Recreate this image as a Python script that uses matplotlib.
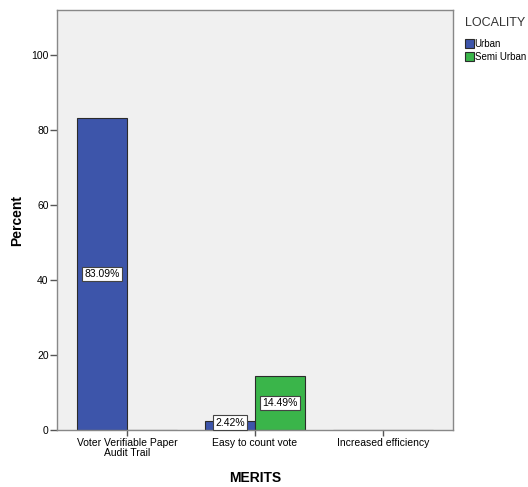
import numpy as np
import matplotlib.pyplot as plt
from matplotlib.patches import Patch

plt.rcParams['font.family'] = ['Liberation Sans', 'DejaVu Sans']

# data
categories = ['Voter Verifiable Paper\nAudit Trail', 'Easy to count vote', 'Increased efficiency']
urban = [83.09, 2.42, 0]
semi_urban = [0, 14.49, 0]
series_names = ['Urban', 'Semi Urban']
colors = ['#3D55AA', '#3AB54A']

fig = plt.figure(figsize=(5.28, 4.87), dpi=100)
ax = fig.add_axes([57/528, 1 - 430/487, 396/528, 420/487])
ax.set_facecolor('#F0F0F0')

x = np.arange(len(categories))
w = 0.39
for vals, off, c in [(urban, -w/2, colors[0]), (semi_urban, w/2, colors[1])]:
    bars = ax.bar(x + off, vals, width=w, color=c, edgecolor='#2b2b2b', linewidth=0.8)
    for b, v in zip(bars, vals):
        if v > 0:
            ax.text(b.get_x() + b.get_width()/2, max(v/2, 2.0), f'{v:.2f}%',
                    ha='center', va='center', fontsize=7.5,
                    bbox=dict(boxstyle='square,pad=0.2', fc='white', ec='#444444', lw=0.8))

ax.set_xlim(-0.547, 2.547)
ax.set_ylim(0, 112)
ax.set_yticks([0, 20, 40, 60, 80, 100])
ax.set_xticks(x)
ax.set_xticklabels(categories, fontsize=7.5, linespacing=0.9)
ax.tick_params(axis='y', labelsize=7.5, length=5, width=1, color='#555555', pad=1)
ax.tick_params(axis='x', length=4, width=1, color='#555555', pad=2)
for s in ax.spines.values():
    s.set_color('#888888')
    s.set_linewidth(1)

ax.set_ylabel('Percent', fontsize=10, fontweight='bold', labelpad=5)
ax.set_xlabel('MERITS', fontsize=10, fontweight='bold', labelpad=10)

# legend title drawn separately to get SPSS-like spacing
fig.text(465/528, 1 - 23/487, 'LOCALITY', fontsize=9, va='center', ha='left', color='#333333')
handles = [Patch(facecolor=c, edgecolor='#2b2b2b', lw=0.8) for c in colors]
leg = fig.legend(handles, series_names, loc='upper left',
                 bbox_to_anchor=(460/528, 1 - 34/487), frameon=False, fontsize=7,
                 handlelength=0.9, handleheight=1.1,
                 handletextpad=0.1, labelspacing=0.3, borderpad=0)

fig.savefig('out.png', dpi=100)
